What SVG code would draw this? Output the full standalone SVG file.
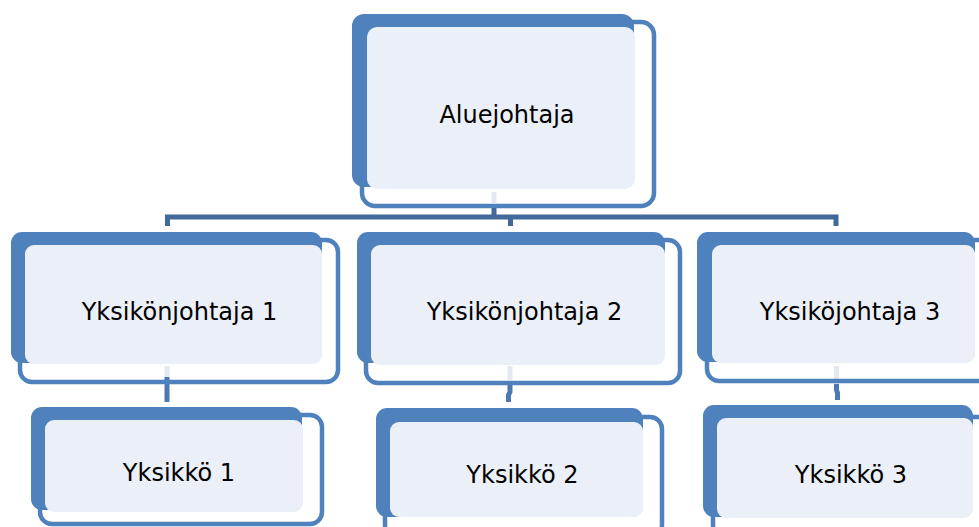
<svg xmlns="http://www.w3.org/2000/svg" width="979" height="527" viewBox="0 0 979 527">
<style>
.ol{fill:none;stroke:#4F81BD;stroke-width:4.5}
.bf{fill:#4F81BD}
.lf{fill:#EBF0F8}
.t{font-family:"DejaVu Sans",Verdana,sans-serif;font-size:24px;fill:#000;text-anchor:middle}
.cn{fill:none;stroke:#41699B;stroke-width:5}
.cv{fill:none;stroke:#4A79B3;stroke-width:5}
.cl{fill:none;stroke:#E3E8F1;stroke-width:5}
</style>
<rect width="979" height="527" fill="#fff"/>
<g id="connectors">
<path class="cl" d="M494 192V203M167 366V377M510 366V380M836.5 366V384"/>
<path class="cn" d="M494 205V217M167.5 226V217H836V226M510.5 217V226"/>
<path class="cv" d="M167 377V402M510 382V392L508.5 395V402M836.5 384V390L837.5 393V400"/>
</g>
<g id="aluejohtaja">
<rect class="ol" x="362" y="22" width="292" height="184" rx="13"/>
<rect class="bf" x="352" y="14" width="282" height="173" rx="12"/>
<rect class="lf" x="367" y="27" width="268" height="162" rx="10"/>
<text class="t" x="507" y="123">Aluejohtaja</text>
</g>
<g id="yksikonjohtaja1">
<rect class="ol" x="20" y="240" width="318" height="142" rx="12"/>
<rect class="bf" x="11" y="232" width="311" height="131" rx="11"/>
<rect class="lf" x="25" y="245" width="297" height="119" rx="9"/>
<text class="t" x="179.5" y="319.5">Yksikönjohtaja 1</text>
</g>
<g id="yksikonjohtaja2">
<rect class="ol" x="366" y="240" width="314" height="143" rx="12"/>
<rect class="bf" x="357" y="232" width="308" height="131" rx="11"/>
<rect class="lf" x="371" y="245" width="294" height="120" rx="9"/>
<text class="t" x="524.5" y="319.5">Yksikönjohtaja 2</text>
</g>
<g id="yksikojohtaja3">
<rect class="ol" x="707" y="240" width="316" height="141" rx="12"/>
<rect class="bf" x="697" y="232" width="278" height="130" rx="11"/>
<rect class="lf" x="712" y="245" width="263" height="118" rx="9"/>
<text class="t" x="850" y="319.5">Yksiköjohtaja 3</text>
</g>
<g id="yksikko1">
<rect class="ol" x="40" y="415" width="282" height="109" rx="12"/>
<rect class="bf" x="31" y="407" width="271" height="103" rx="11"/>
<rect class="lf" x="45" y="420" width="258" height="92" rx="9"/>
<text class="t" x="179" y="481">Yksikkö 1</text>
</g>
<g id="yksikko2">
<rect class="ol" x="385" y="417" width="277" height="120" rx="12"/>
<rect class="bf" x="376" y="408" width="267" height="109" rx="11"/>
<rect class="lf" x="390" y="422" width="253" height="95" rx="9"/>
<text class="t" x="522.5" y="483">Yksikkö 2</text>
</g>
<g id="yksikko3">
<rect class="ol" x="713" y="417" width="290" height="120" rx="12"/>
<rect class="bf" x="703" y="405" width="270" height="112" rx="11"/>
<rect class="lf" x="717" y="418" width="256" height="100" rx="9"/>
<text class="t" x="851" y="483">Yksikkö 3</text>
</g>
</svg>
